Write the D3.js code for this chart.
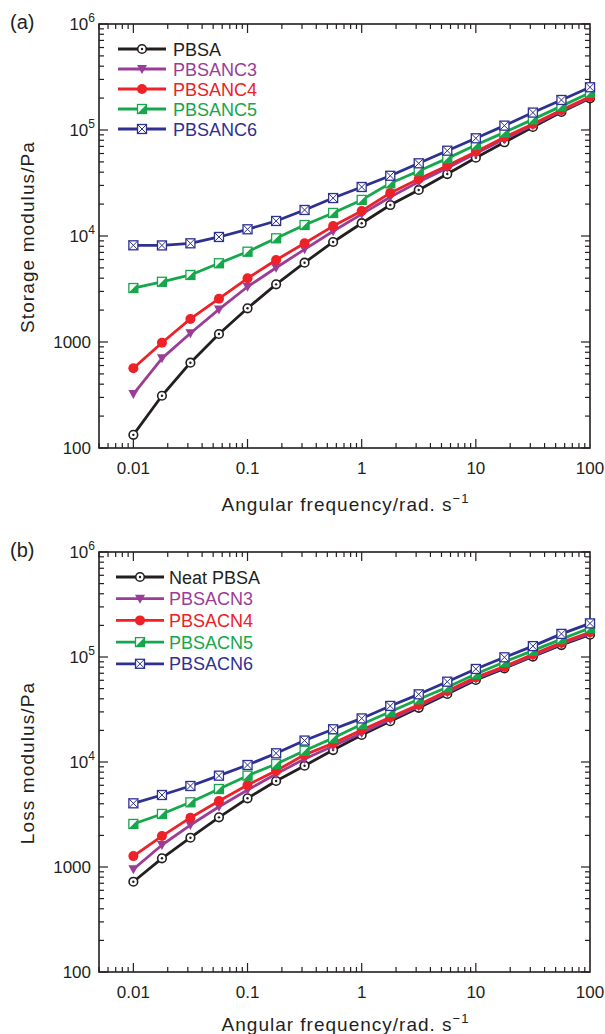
<!DOCTYPE html>
<html>
<head>
<meta charset="utf-8">
<script src="https://cdn.jsdelivr.net/npm/d3@7"></script>
<style>
  html, body { margin: 0; padding: 0; background: #fff; }
  svg { display: block; }
  text { font-family: "Liberation Sans", Arial, Helvetica, sans-serif; }
</style>
</head>
<body>
<svg id="chart" width="605" height="1034"></svg>
<script>
// ---------- data ----------
const freq = [0.01, 0.0178, 0.0316, 0.0562, 0.1, 0.178, 0.316, 0.562, 1, 1.78, 3.16, 5.62, 10, 17.8, 31.6, 56.2, 100];

const seriesNamesA = ["PBSA", "PBSANC3", "PBSANC4", "PBSANC5", "PBSANC6"];
const seriesNamesB = ["Neat PBSA", "PBSACN3", "PBSACN4", "PBSACN5", "PBSACN6"];

// Storage modulus (Pa)
const storagePBSA = [133, 311, 638, 1190, 2080, 3500, 5600, 8780, 13200, 19600, 27200, 38400, 54800, 76600, 106700, 148000, 199000];
const storageNC3  = [323, 701, 1210, 2030, 3320, 5020, 7490, 11100, 16100, 23300, 32400, 43800, 60000, 82200, 111000, 151000, 202000];
const storageNC4  = [565, 984, 1650, 2560, 3990, 5940, 8540, 12400, 17200, 25500, 34500, 46000, 62400, 85300, 114000, 154000, 206000];
const storageNC5  = [3230, 3700, 4290, 5530, 7110, 9510, 12700, 16500, 21900, 31400, 41000, 54000, 72200, 95000, 126000, 168000, 225000];
const storageNC6  = [8170, 8150, 8530, 9790, 11570, 13860, 17600, 22800, 29000, 37000, 48500, 63800, 83500, 110000, 146000, 192000, 253000];

// Loss modulus (Pa)
const lossPBSA = [724, 1210, 1900, 2970, 4510, 6590, 9220, 13000, 18100, 24500, 32800, 44500, 60500, 78000, 101000, 130000, 163000];
const lossNC3  = [951, 1620, 2510, 3750, 5410, 7690, 10700, 14200, 18900, 25400, 33900, 46000, 62000, 79500, 103000, 133000, 167000];
const lossNC4  = [1270, 1970, 2950, 4250, 6040, 8260, 11700, 15100, 20200, 26700, 35000, 47500, 64000, 81000, 106000, 137000, 172000];
const lossNC5  = [2570, 3200, 4130, 5530, 7410, 9570, 12800, 16900, 22900, 30100, 39600, 51500, 68900, 89600, 115000, 148000, 189000];
const lossNC6  = [4040, 4850, 5910, 7410, 9360, 12100, 16000, 20500, 26000, 34200, 44100, 58200, 76900, 99300, 127000, 166000, 209000];

const xTickLabels = ["0.01", "0.1", "1", "10", "100"];
const xTickValues = [0.01, 0.1, 1, 10, 100];
const yTickValues = [100, 1000, 1e4, 1e5, 1e6];
const yTickLabels = [["100", null], ["1000", null], ["10", "4"], ["10", "5"], ["10", "6"]];

const colors = ["#231f20", "#9b3d96", "#ed2127", "#14a74b", "#2e3192"];
const markers = ["dotcircle", "triangle", "circle", "halfsquare", "xsquare"];

// ---------- layout ----------
const svg = d3.select("#chart");
const X0 = 99, X1 = 590;

const panels = [
  { tag: "(a)", top: 24, bottom: 448, ytitle: "Storage modulus/Pa", xtitleOff: 63,
    data: [storagePBSA, storageNC3, storageNC4, storageNC5, storageNC6], names: seriesNamesA,
    legendY: 49, legendStep: 20, legendX: 118, legendW: 48, legendTextX: 173 },
  { tag: "(b)", top: 552, bottom: 972, ytitle: "Loss modulus/Pa", xtitleOff: 59,
    data: [lossPBSA, lossNC3, lossNC4, lossNC5, lossNC6], names: seriesNamesB,
    legendY: 577, legendStep: 21.7, legendX: 116, legendW: 48, legendTextX: 169 }
];

function drawMarker(g, type, color, cx, cy) {
  const m = g.append("g").attr("transform", `translate(${cx},${cy})`);
  if (type === "dotcircle") {
    m.append("circle").attr("r", 4.3).attr("fill", "#fff").attr("stroke", color).attr("stroke-width", 1.6);
    m.append("circle").attr("r", 1.2).attr("fill", color);
  } else if (type === "triangle") {
    m.append("path").attr("d", "M-5,-4 L5,-4 L0,5 Z").attr("fill", color);
  } else if (type === "circle") {
    m.append("circle").attr("r", 5).attr("fill", color);
  } else if (type === "halfsquare") {
    m.append("rect").attr("x", -4.5).attr("y", -4.5).attr("width", 9).attr("height", 9)
      .attr("fill", "#fff").attr("stroke", color).attr("stroke-width", 1.3);
    m.append("path").attr("d", "M-4.5,4.5 L4.5,4.5 L4.5,-4.5 Z").attr("fill", color);
  } else if (type === "xsquare") {
    m.append("rect").attr("x", -4.5).attr("y", -4.5).attr("width", 9).attr("height", 9)
      .attr("fill", "#fff").attr("stroke", color).attr("stroke-width", 1.3);
    m.append("path").attr("d", "M-4.5,-4.5 L4.5,4.5 M-4.5,4.5 L4.5,-4.5")
      .attr("stroke", color).attr("stroke-width", 1);
  }
}

panels.forEach(p => {
  const x = d3.scaleLog().domain([0.005, 100]).range([X0, X1]);
  const y = d3.scaleLog().domain([100, 1e6]).range([p.bottom, p.top]);
  const g = svg.append("g");

  // minor/major ticks
  const xMinor = [];
  for (let d = 0.001; d < 100; d *= 10) for (let k = 1; k <= 9; k++) {
    const v = +(d * k).toPrecision(3);
    if (v >= 0.005 && v <= 100) xMinor.push(v);
  }
  const yMinor = [];
  for (let d = 100; d < 1e6; d *= 10) for (let k = 2; k <= 9; k++) yMinor.push(d * k);

  const tickG = g.append("g").attr("stroke", "#231f20").attr("stroke-width", 1.2);
  xMinor.forEach(v => {
    const major = xTickValues.includes(v);
    const len = major ? 9 : 5;
    tickG.append("line").attr("x1", x(v)).attr("x2", x(v)).attr("y1", p.bottom).attr("y2", p.bottom - len);
    tickG.append("line").attr("x1", x(v)).attr("x2", x(v)).attr("y1", p.top).attr("y2", p.top + len);
  });
  yMinor.forEach(v => {
    tickG.append("line").attr("x1", X0).attr("x2", X0 + 5).attr("y1", y(v)).attr("y2", y(v));
    tickG.append("line").attr("x1", X1).attr("x2", X1 - 5).attr("y1", y(v)).attr("y2", y(v));
  });
  yTickValues.forEach(v => {
    tickG.append("line").attr("x1", X0).attr("x2", X0 + 9).attr("y1", y(v)).attr("y2", y(v));
    tickG.append("line").attr("x1", X1).attr("x2", X1 - 9).attr("y1", y(v)).attr("y2", y(v));
  });

  // frame
  g.append("rect").attr("x", X0).attr("y", p.top).attr("width", X1 - X0).attr("height", p.bottom - p.top)
    .attr("fill", "none").attr("stroke", "#231f20").attr("stroke-width", 1.6);

  // x tick labels
  xTickValues.forEach((v, i) => {
    g.append("text").attr("x", x(v)).attr("y", p.bottom + 26).attr("text-anchor", "middle")
      .attr("font-size", 17).attr("fill", "#231f20").text(xTickLabels[i]);
  });
  // y tick labels
  yTickValues.forEach((v, i) => {
    const [base, exp] = yTickLabels[i];
    const t = g.append("text").attr("y", y(v) + 6).attr("font-size", 17).attr("fill", "#231f20")
      .attr("text-anchor", "end");
    if (exp) {
      t.attr("x", 95);
      t.append("tspan").text(base);
      t.append("tspan").attr("dy", -8).attr("font-size", 12).text(exp);
    } else {
      t.attr("x", 91).text(base);
    }
  });

  // axis titles
  const xt = g.append("text").attr("x", (X0 + X1) / 2 + 1).attr("y", p.bottom + p.xtitleOff).attr("text-anchor", "middle")
    .attr("font-size", 19).attr("letter-spacing", 1.0).attr("fill", "#231f20");
  xt.append("tspan").text("Angular frequency/rad. s");
  xt.append("tspan").attr("dy", -8).attr("font-size", 13).text("\u22121");

  g.append("text").attr("transform", `translate(34,${(p.top + p.bottom) / 2 + 1}) rotate(-90)`)
    .attr("text-anchor", "middle").attr("font-size", 19).attr("letter-spacing", 1.1)
    .attr("fill", "#231f20").text(p.ytitle);

  // panel tag
  g.append("text").attr("x", 10).attr("y", p.top + 5).attr("font-size", 20).attr("fill", "#231f20").text(p.tag);

  // series
  const line = d3.line().x((d, i) => x(freq[i])).y(d => y(d));
  p.data.forEach((vals, si) => {
    g.append("path").datum(vals).attr("d", line).attr("fill", "none")
      .attr("stroke", colors[si]).attr("stroke-width", 2.8).attr("stroke-linejoin", "round");
    vals.forEach((v, i) => drawMarker(g, markers[si], colors[si], x(freq[i]), y(v)));
  });

  // legend
  p.names.forEach((name, si) => {
    const ly = p.legendY + si * p.legendStep;
    g.append("line").attr("x1", p.legendX).attr("x2", p.legendX + p.legendW).attr("y1", ly).attr("y2", ly)
      .attr("stroke", colors[si]).attr("stroke-width", 2.8);
    drawMarker(g, markers[si], colors[si], p.legendX + p.legendW / 2, ly);
    g.append("text").attr("x", p.legendTextX).attr("y", ly + 6.5).attr("font-size", 18)
      .attr("fill", colors[si]).text(name);
  });
});
</script>
</body>
</html>
